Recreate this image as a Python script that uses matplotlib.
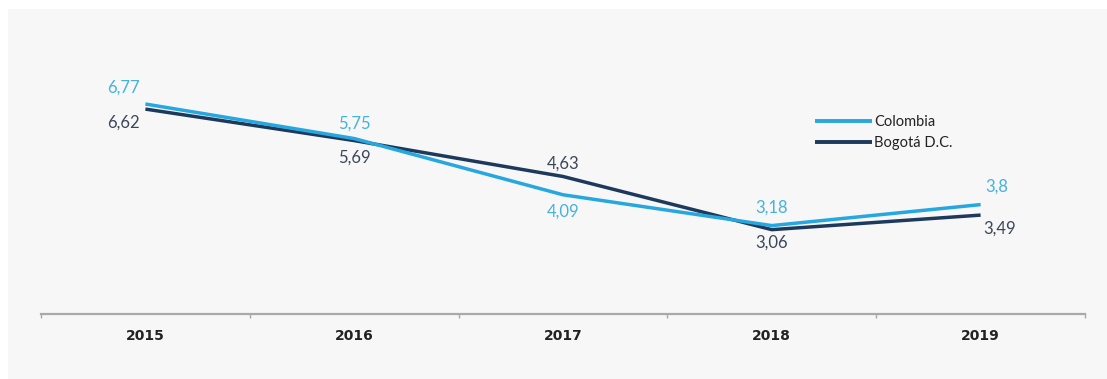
import matplotlib
matplotlib.use("Agg")
import matplotlib.pyplot as plt
from matplotlib.patches import Rectangle
from matplotlib.ticker import FixedLocator

years = ["2015", "2016", "2017", "2018", "2019"]
colombia = [6.77, 5.75, 4.09, 3.18, 3.8]
bogota = [6.62, 5.69, 4.63, 3.06, 3.49]
colombia_labels = ["6,77", "5,75", "4,09", "3,18", "3,8"]
bogota_labels = ["6,62", "5,69", "4,63", "3,06", "3,49"]

# label offsets in points (dx, dy) relative to each point
colombia_offsets = [(-16, 12), (0, 11), (0, -12), (0, 13), (12, 13)]
bogota_offsets = [(-16, -10), (0, -12), (0, 9), (0, -9), (14, -10)]

C_COL = "#26a7df"
C_BOG = "#1d3a5c"
C_COL_TXT = "#45b2dc"
C_BOG_TXT = "#3b4758"

W, H = 1107, 379
fig = plt.figure(figsize=(W / 100, H / 100), dpi=100)
fig.patch.set_facecolor("white")
fig.patches.append(Rectangle((8 / W, 0), 1 - 8 / W, 1 - 9 / H,
                             transform=fig.transFigure, facecolor="#f7f7f7",
                             edgecolor="none", zorder=-10))

left, right = 41 / W, 1085 / W
bottom, top = (H - 314) / H, (H - 20) / H
ax = fig.add_axes([left, bottom, right - left, top - bottom])
ax.set_facecolor("none")

x = list(range(len(years)))
ax.plot(x, colombia, color=C_COL, lw=2.5, solid_capstyle="butt", label="Colombia", zorder=3)
ax.plot(x, bogota, color=C_BOG, lw=2.5, solid_capstyle="butt", label="Bogotá D.C.", zorder=2)

font = "Lato"
for xi, v, t, (dx, dy) in zip(x, colombia, colombia_labels, colombia_offsets):
    ax.annotate(t, (xi, v), xytext=(dx, dy), textcoords="offset points",
                ha="center", va="center", color=C_COL_TXT, fontsize=12, family=font)
for xi, v, t, (dx, dy) in zip(x, bogota, bogota_labels, bogota_offsets):
    ax.annotate(t, (xi, v), xytext=(dx, dy), textcoords="offset points",
                ha="center", va="center", color=C_BOG_TXT, fontsize=12, family=font)

ax.set_xlim(-0.5, len(years) - 0.5)
ax.set_ylim(0.57, 9.25)
for s in ["top", "right", "left"]:
    ax.spines[s].set_visible(False)
ax.spines["bottom"].set_color("#a9a9a9")
ax.spines["bottom"].set_linewidth(1.6)
ax.set_yticks([])
ax.set_xticks(x)
ax.set_xticklabels(years, fontsize=10, fontweight="bold", color="#222222", family="DejaVu Sans")
ax.tick_params(axis="x", which="major", length=0, pad=11)
ax.xaxis.set_minor_locator(FixedLocator([i - 0.5 for i in range(len(years) + 1)]))
ax.tick_params(axis="x", which="minor", length=3, width=1, color="#a9a9a9")

leg = ax.legend(loc="upper left", bbox_to_anchor=(815 / W, 1 - 115 / H),
                bbox_transform=fig.transFigure, frameon=False, fontsize=10.5,
                handlelength=3.9, handletextpad=0.15, labelspacing=0.5,
                borderpad=0, borderaxespad=0)
for txt in leg.get_texts():
    txt.set_color("#222222")
    txt.set_family("Lato")
for ln in leg.get_lines():
    ln.set_linewidth(2.8)

fig.savefig("out.png", dpi=100)
